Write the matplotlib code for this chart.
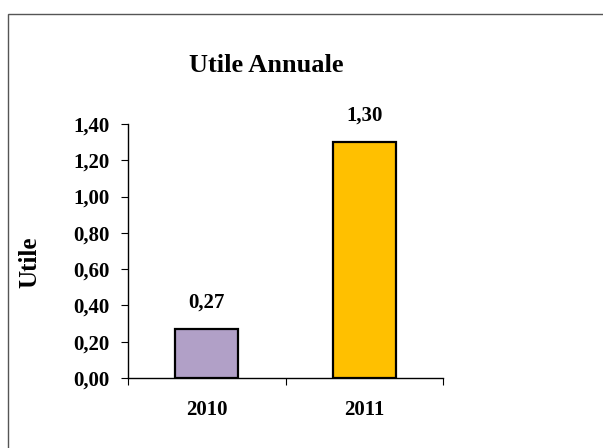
import matplotlib
matplotlib.use('Agg')

import matplotlib.pyplot as plt
from matplotlib.patches import Rectangle
import numpy as np

anni = ["2010", "2011"]
utile = [0.27, 1.30]
colori = ["#B1A0C7", "#FFC000"]
y_ticks = [0.0, 0.2, 0.4, 0.6, 0.8, 1.0, 1.2, 1.4]

plt.rcParams["font.family"] = "Liberation Serif"
plt.rcParams["font.weight"] = "bold"

fig = plt.figure(figsize=(6.03, 4.48), dpi=100)
ax = fig.add_axes([128 / 603, 1 - 378 / 448, 315 / 603, 254 / 448])

# cornice del grafico (tagliata a destra e in basso)
fig.patches.append(Rectangle((8 / 603, -0.1), 1.2, 1 - 14 / 448 + 0.1,
                             transform=fig.transFigure, fill=False,
                             edgecolor="#555555", linewidth=1.0))

x = np.arange(len(anni))
ax.bar(x, utile, width=0.4, color=colori, edgecolor="black", linewidth=1.6, zorder=3)

for xi, val in zip(x, utile):
    ax.annotate(f"{val:.2f}".replace(".", ","), (xi, val), xytext=(0, 12),
                textcoords="offset points", ha="center", va="bottom",
                fontsize=15, fontweight="bold")

ax.set_xlim(-0.5, 1.5)
ax.set_ylim(0, 1.4)
ax.set_yticks(y_ticks)
ax.set_yticklabels([f"{t:.2f}".replace(".", ",") for t in y_ticks])
ax.set_xticks(x)
ax.set_xticklabels(anni)
ax.set_xticks([-0.5, 0.5, 1.5], minor=True)

ax.tick_params(axis="x", which="major", length=0, pad=16, labelsize=15)
ax.tick_params(axis="x", which="minor", length=5, width=0.8, direction="out")
ax.tick_params(axis="y", length=5, width=0.8, direction="out", pad=8, labelsize=15)

for s in ["top", "right"]:
    ax.spines[s].set_visible(False)
for s in ["left", "bottom"]:
    ax.spines[s].set_linewidth(1.0)

fig.text(266 / 603, 1 - 66 / 448, "Utile Annuale", ha="center", va="center",
         fontsize=19, fontweight="bold")
fig.text(30 / 603, 1 - 262 / 448, "Utile", ha="center", va="center",
         rotation=90, fontsize=18, fontweight="bold")

plt.savefig("out.png", dpi=100)
plt.close()
